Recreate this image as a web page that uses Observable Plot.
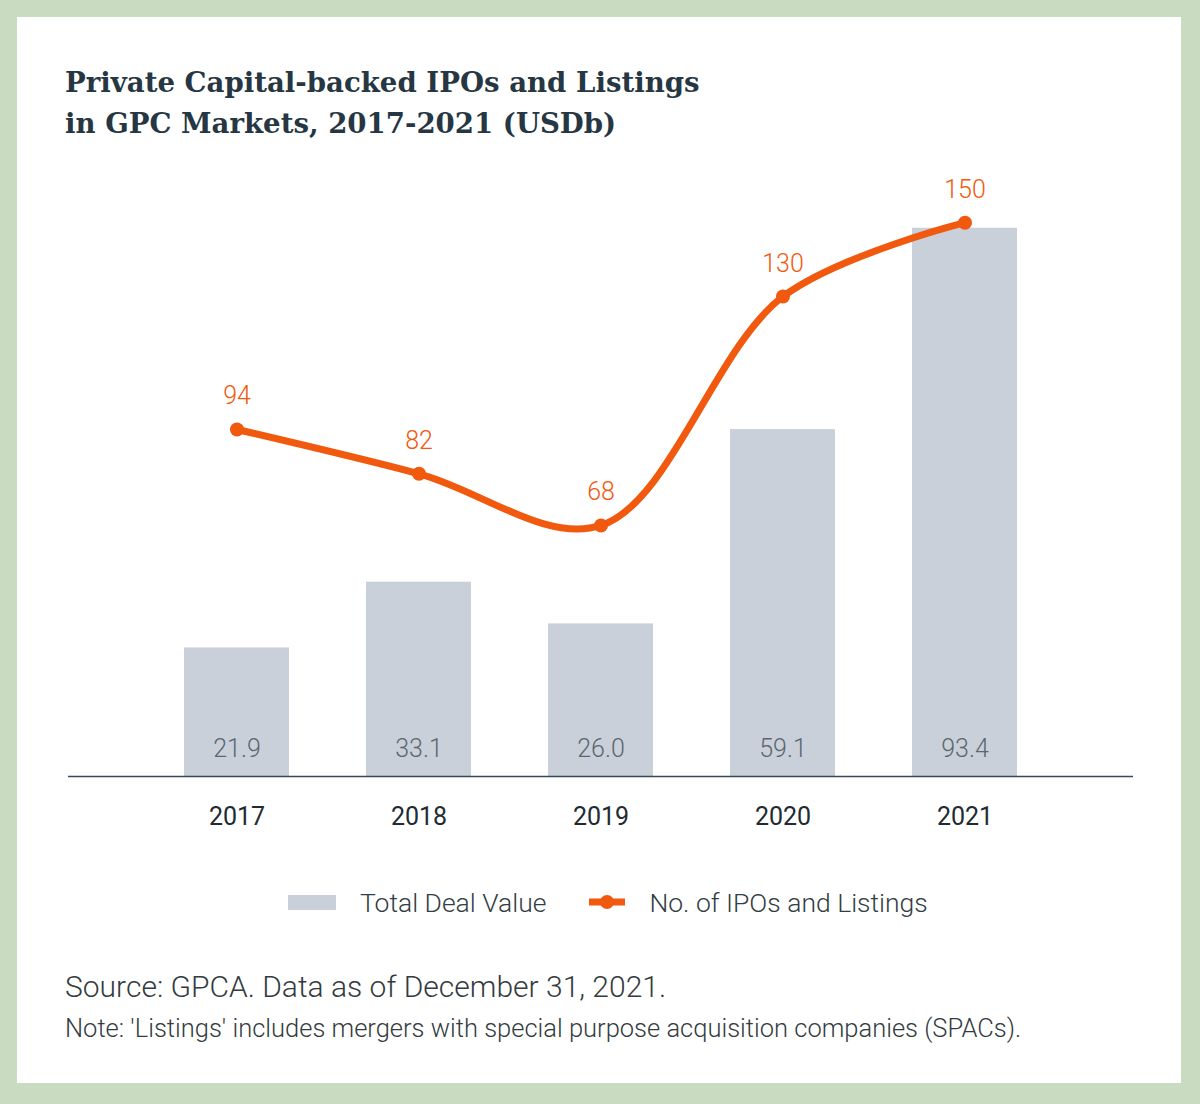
<!DOCTYPE html>
<html>
<head>
<meta charset="utf-8">
<script src="https://cdn.jsdelivr.net/npm/d3@7"></script>
<script src="https://cdn.jsdelivr.net/npm/@observablehq/plot@0.6"></script>
<style>
  body { margin: 0; }
  #frame { position: relative; width: 1200px; height: 1104px; background: #c9dcc1; overflow: hidden; }
  #panel { position: absolute; left: 17px; top: 17px; width: 1164px; height: 1066px; background: #ffffff; }
  #title { position: absolute; left: 48px; top: 45px; margin: 0; font-family: "DejaVu Serif", serif; font-weight: bold;
           font-size: 27.6px; line-height: 41px; color: #263743; }
  #chart { position: absolute; left: 0; top: 143px; }
  #legend { position: absolute; left: 271px; top: 870px; height: 30px; display: flex; align-items: center;
            font-family: Roboto, sans-serif; font-weight: 300; font-size: 26.5px; color: #333d44; }
  #legend .item { display: flex; align-items: center; }
  #source { position: absolute; left: 48px; top: 952px; font-family: Roboto, sans-serif; font-weight: 300;
            font-size: 30px; line-height: normal; color: #333b40; white-space: nowrap; }
  #note { position: absolute; left: 48px; top: 996px; font-family: Roboto, sans-serif; font-weight: 300;
          font-size: 25.5px; line-height: normal; color: #333b40; white-space: nowrap; }
</style>
</head>
<body>
<div id="frame">
  <div id="panel">
    <h1 id="title">Private Capital-backed IPOs and Listings<br>in GPC Markets, 2017-2021 (USDb)</h1>
    <div id="chart"></div>
    <div id="legend"></div>
    <div id="source">Source: GPCA. Data as of December 31, 2021.</div>
    <div id="note">Note: 'Listings' includes mergers with special purpose acquisition companies (SPACs).</div>
  </div>
</div>
<script>
// Years on the category axis
const years = ["2017", "2018", "2019", "2020", "2021"];
// Total deal value, USD billions (bars)
const dealValue = [21.9, 33.1, 26.0, 59.1, 93.4];
// Number of IPOs and listings (line)
const listings = [94, 82, 68, 130, 150];

// Colours
const barColor = "#c9d0da";
const lineColor = "#f0590e";

// The two series share one frame: the value axis tops out at 100,
// the count axis at 159 at the same height.
const valueMax = 100;
const countMax = 159;

const rows = years.map((year, i) => ({
  year,
  value: dealValue[i],
  count: listings[i],
  countY: listings[i] * valueMax / countMax
}));

const chart = Plot.plot({
  width: 1164,
  height: 680,
  marginLeft: 51,
  marginRight: 48,
  marginTop: 29,
  marginBottom: 64,
  style: { fontFamily: "Roboto, sans-serif", fontSize: "25px", background: "transparent", overflow: "visible" },
  x: { domain: years, paddingInner: 0.425, paddingOuter: 0.63, label: null },
  y: { domain: [0, valueMax], axis: null },
  marks: [
    Plot.barY(rows, { x: "year", y: "value", fill: barColor }),
    Plot.text(rows, { x: "year", y: 0, text: d => d.value.toFixed(1), dy: -28, fill: "#5c6770",
                      fontWeight: 300, fontSize: 25 }),
    Plot.ruleY([0], { stroke: "#3b4952", strokeWidth: 1.6 }),
    Plot.axisX({ tickSize: 0, tickPadding: 31, fontSize: 25, color: "#222b31" }),
    Plot.line(rows, { x: "year", y: "countY", stroke: lineColor, strokeWidth: 7, curve: "catmull-rom" }),
    Plot.dot(rows, { x: "year", y: "countY", r: 7, fill: lineColor }),
    Plot.text(rows, { x: "year", y: "countY", text: d => String(d.count), dy: -33, fill: lineColor,
                      fontWeight: 300, fontSize: 25 })
  ]
});
document.getElementById("chart").append(chart);

// Legend below the chart
const legend = document.getElementById("legend");
legend.innerHTML = `
  <span class="item">
    <svg width="48" height="16" style="margin-right:24px"><rect x="0" y="1" width="48" height="15" fill="${barColor}"/></svg>
    <span>Total Deal Value</span>
  </span>
  <span class="item" style="margin-left:43px">
    <svg width="36" height="16" style="margin-right:24px">
      <line x1="0" y1="8" x2="36" y2="8" stroke="${lineColor}" stroke-width="7"/>
      <circle cx="18" cy="8" r="7" fill="${lineColor}"/>
    </svg>
    <span>No. of IPOs and Listings</span>
  </span>`;
</script>
</body>
</html>
